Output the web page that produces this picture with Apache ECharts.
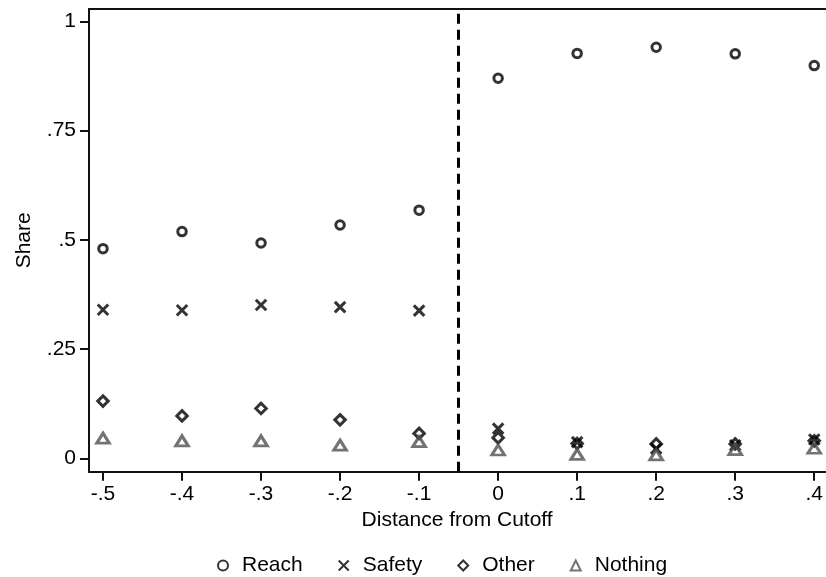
<!DOCTYPE html>
<html>
<head>
<meta charset="utf-8">
<title>Share by distance from cutoff</title>
<script src="https://cdn.jsdelivr.net/npm/echarts@6/dist/echarts.min.js"></script>
<style>
  html, body { margin: 0; padding: 0; background: #fff; }
  #chart { width: 826px; height: 577px; }
</style>
</head>
<body>
<div id="chart"></div>
<script>
// Distance from the admission cutoff (bin centres)
const distance = [-0.5, -0.4, -0.3, -0.2, -0.1, 0, 0.1, 0.2, 0.3, 0.4];

// Share of students in each outcome per bin
const reach   = [0.480, 0.519, 0.493, 0.534, 0.568, 0.870, 0.927, 0.941, 0.926, 0.899];
const safety  = [0.340, 0.339, 0.351, 0.346, 0.338, 0.068, 0.037, 0.022, 0.030, 0.043];
const other   = [0.131, 0.097, 0.114, 0.088, 0.057, 0.047, 0.034, 0.033, 0.033, 0.040];
const nothing = [0.046, 0.040, 0.040, 0.030, 0.038, 0.019, 0.009, 0.008, 0.020, 0.023];

// Axis ticks
const xTicks = [-0.5, -0.4, -0.3, -0.2, -0.1, 0, 0.1, 0.2, 0.3, 0.4];
const yTicks = [0, 0.25, 0.5, 0.75, 1];

// Cutoff position drawn as a dashed reference line
const cutoffLine = -0.05;

const FONT = '"Liberation Sans", Arial, Helvetica, sans-serif';
const INK = '#000';

// Stata-style numbers: drop the leading zero (0.25 -> .25, -0.5 -> -.5)
function stataNum(v) {
  const r = Math.round(v * 100) / 100;
  if (r === 0) return '0';
  return String(r).replace(/^(-?)0\./, '$1.');
}

function pairs(ys) {
  return distance.map((x, i) => [x, ys[i]]);
}

const chart = echarts.init(document.getElementById('chart'), null, { renderer: 'canvas' });

const markerBase = {
  type: 'scatter',
  xAxisIndex: 0,
  yAxisIndex: 0,
  emphasis: { disabled: true },
  z: 3
};

const X_MIN = -0.5177, X_MAX = 0.4139;

chart.setOption({
  animation: false,
  backgroundColor: '#ffffff',
  textStyle: { fontFamily: FONT, color: INK },
  grid: { left: 89, top: 9, right: 0, bottom: 105.3, containLabel: false },
  xAxis: [
    {
      type: 'value',
      min: X_MIN,
      max: X_MAX,
      position: 'bottom',
      name: 'Distance from Cutoff',
      nameLocation: 'middle',
      nameGap: 34,
      nameTextStyle: { fontFamily: FONT, fontSize: 21, color: INK },
      axisLine: { show: true, onZero: false, lineStyle: { color: '#111', width: 2 } },
      axisTick: { show: true, length: 9, lineStyle: { color: '#111', width: 2 }, customValues: xTicks },
      axisLabel: {
        show: true, margin: 12, fontFamily: FONT, fontSize: 21, color: INK,
        customValues: xTicks, formatter: stataNum
      },
      splitLine: { show: false }
    },
    {
      // top frame line
      type: 'value',
      min: X_MIN,
      max: X_MAX,
      position: 'top',
      axisLine: { show: true, onZero: false, lineStyle: { color: '#111', width: 2 } },
      axisTick: { show: false },
      axisLabel: { show: false },
      splitLine: { show: false }
    }
  ],
  yAxis: {
    type: 'value',
    min: -0.0307,
    max: 1.0286,
    name: 'Share',
    nameLocation: 'middle',
    nameGap: 54,
    nameTextStyle: { fontFamily: FONT, fontSize: 21, color: INK },
    axisLine: { show: true, onZero: false, lineStyle: { color: '#111', width: 2 } },
    axisTick: { show: true, length: 9, lineStyle: { color: '#111', width: 2 }, customValues: yTicks },
    axisLabel: {
      show: true, margin: 13, fontFamily: FONT, fontSize: 21, color: INK,
      customValues: yTicks, formatter: stataNum
    },
    splitLine: { show: false }
  },
  legend: {
    top: 550,
    left: 212,
    itemWidth: 10,
    itemHeight: 10,
    itemGap: 35,
    selectedMode: false,
    itemStyle: { borderWidth: 2 },
    textStyle: { fontFamily: FONT, fontSize: 21, color: INK, padding: [0, 0, 0, 9] },
    data: ['Reach', 'Safety', 'Other', 'Nothing']
  },
  series: [
    Object.assign({}, markerBase, {
      name: 'Reach',
      data: pairs(reach),
      symbol: 'circle',
      symbolSize: 8.5,
      itemStyle: { color: 'rgba(0,0,0,0)', borderColor: '#000', borderWidth: 3 },
      markLine: {
        silent: true,
        symbol: ['none', 'none'],
        label: { show: false },
        lineStyle: { color: '#000', width: 3, type: [10, 6] },
        data: [{ xAxis: cutoffLine }]
      }
    }),
    Object.assign({}, markerBase, {
      name: 'Safety',
      data: pairs(safety),
      symbol: 'path://M0,0L10,10M10,0L0,10',
      symbolSize: 10.5,
      itemStyle: { color: 'rgba(0,0,0,0)', borderColor: '#000', borderWidth: 3 }
    }),
    Object.assign({}, markerBase, {
      name: 'Other',
      data: pairs(other),
      symbol: 'path://M5,0L10,5L5,10L0,5Z',
      symbolSize: 10.5,
      itemStyle: { color: 'rgba(0,0,0,0)', borderColor: '#000', borderWidth: 3 }
    }),
    Object.assign({}, markerBase, {
      name: 'Nothing',
      data: pairs(nothing),
      symbol: 'triangle',
      symbolSize: [12.5, 10],
      itemStyle: { color: 'rgba(0,0,0,0)', borderColor: '#505050', borderWidth: 3 }
    })
  ]
});
</script>
</body>
</html>
